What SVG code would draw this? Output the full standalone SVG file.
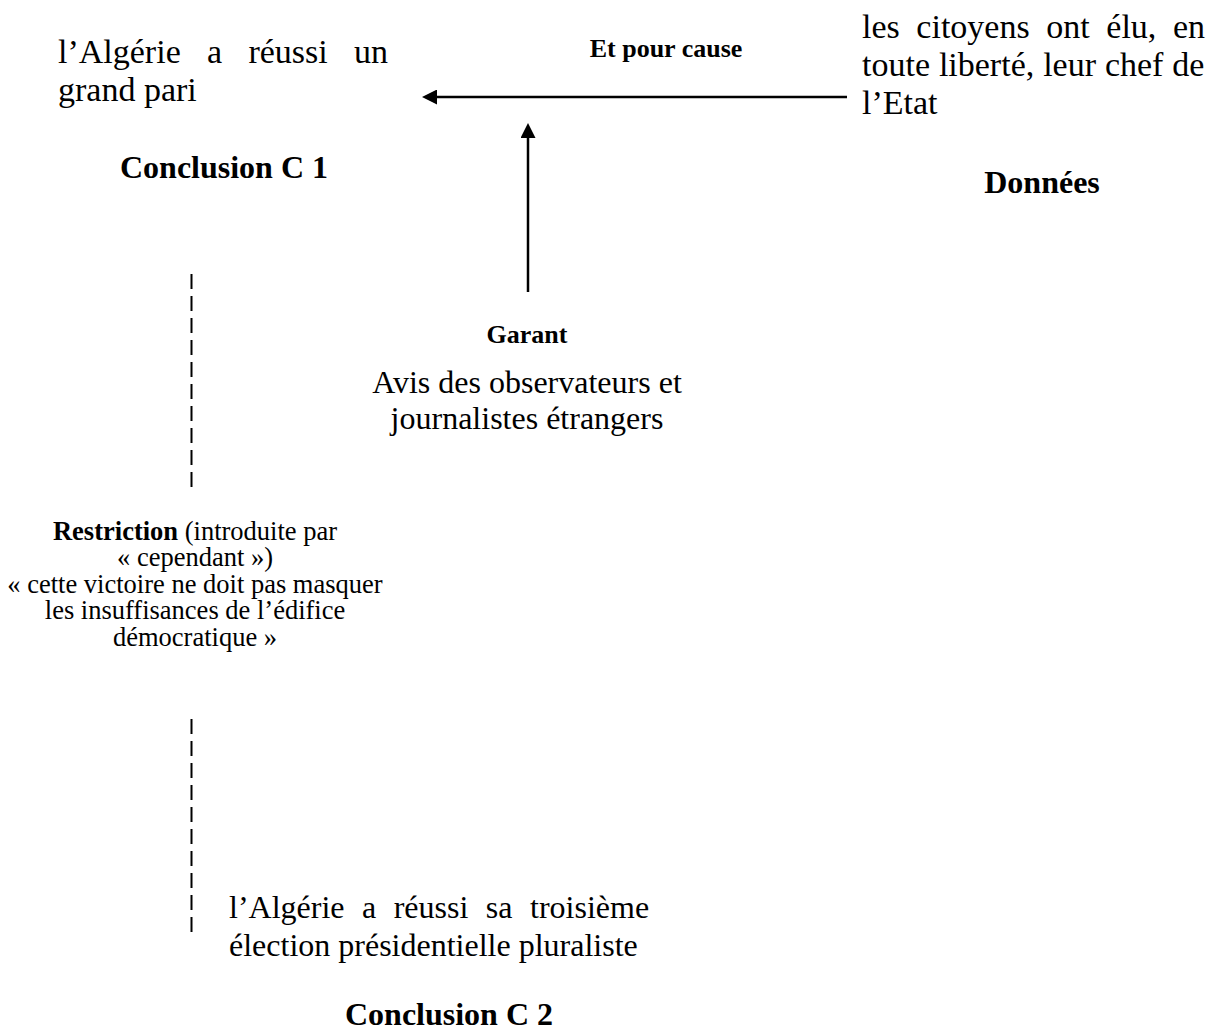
<svg xmlns="http://www.w3.org/2000/svg" width="1210" height="1032" viewBox="0 0 1210 1032">
<style>
text{font-family:"Liberation Serif","Times New Roman",serif;fill:#000}
.body{font-size:32px}
.big{font-size:34px}
.lab{font-size:32px;font-weight:bold}
.small{font-size:26px;font-weight:bold}
.restr{font-size:26.5px}
.conn{stroke:#000;stroke-width:2.5;fill:none}
.dash{stroke:#000;stroke-width:2;fill:none;stroke-dasharray:15 7}
</style>
<defs>
<marker id="arrow" viewBox="0 0 15 15" markerWidth="15" markerHeight="15" refX="3" refY="7.5" orient="auto" markerUnits="userSpaceOnUse">
<path d="M0,0 L15,7.5 L0,15 z" fill="#000"/>
</marker>
</defs>
<rect width="1210" height="1032" fill="#fff"/>
<g id="connectors">
<line class="conn" x1="847" y1="97" x2="434" y2="97" marker-end="url(#arrow)"/>
<line class="conn" x1="528" y1="292" x2="528" y2="135" marker-end="url(#arrow)"/>
<line class="dash" x1="191.5" y1="274" x2="191.5" y2="487"/>
<line class="dash" x1="191.5" y1="719" x2="191.5" y2="933"/>
</g>
<g id="conclusion-c1">
<text class="big" x="58" y="63" word-spacing="17.8">l’Algérie a réussi un</text>
<text class="big" x="58" y="101">grand pari</text>
<text class="lab" x="224" y="178" text-anchor="middle">Conclusion C 1</text>
</g>
<g id="et-pour-cause">
<text class="small" x="666" y="57" text-anchor="middle">Et pour cause</text>
</g>
<g id="donnees">
<text class="big" x="862" y="38" word-spacing="8.1">les citoyens ont élu, en</text>
<text class="big" x="862" y="76" word-spacing="0.4">toute liberté, leur chef de</text>
<text class="big" x="862" y="114">l’Etat</text>
<text class="lab" x="1042" y="193" text-anchor="middle">Données</text>
</g>
<g id="garant">
<text class="small" x="527" y="343" text-anchor="middle">Garant</text>
<text class="body" x="527" y="393" text-anchor="middle">Avis des observateurs et</text>
<text class="body" x="527" y="429" text-anchor="middle">journalistes étrangers</text>
</g>
<g id="restriction">
<text class="restr" x="195" y="540" text-anchor="middle"><tspan font-weight="bold">Restriction</tspan> (introduite par</text>
<text class="restr" x="195" y="566" text-anchor="middle">« cependant »)</text>
<text class="restr" x="195" y="593" text-anchor="middle">« cette victoire ne doit pas masquer</text>
<text class="restr" x="195" y="619" text-anchor="middle">les insuffisances de l’édifice</text>
<text class="restr" x="195" y="646" text-anchor="middle">démocratique »</text>
</g>
<g id="conclusion-c2">
<text class="body" x="229" y="918" word-spacing="9.5">l’Algérie a réussi sa troisième</text>
<text class="body" x="229" y="956">élection présidentielle pluraliste</text>
<text class="lab" x="449" y="1025" text-anchor="middle">Conclusion C 2</text>
</g>
</svg>
